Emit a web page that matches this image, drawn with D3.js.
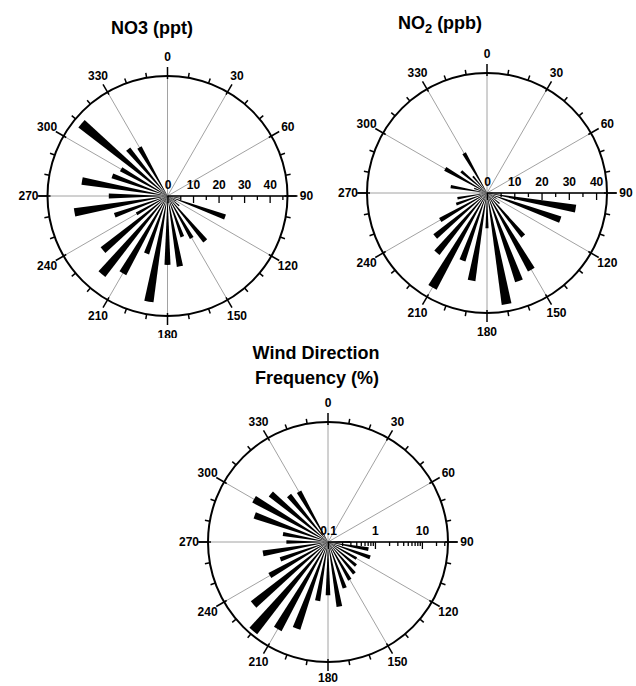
<!DOCTYPE html>
<html><head><meta charset="utf-8">
<script src="https://cdn.jsdelivr.net/npm/d3@7"></script>
<style>
body{margin:0;background:#fff}
text{font-family:"Liberation Sans",Arial,sans-serif;font-weight:bold;fill:#000}
</style>
</head><body><svg id="c" width="636" height="686"></svg>
<script>
// ---- data ----
const directions = d3.range(0, 360, 10); // 0,10,...,350 degrees
// NO3 (ppt) by wind direction bin
const no3Values = [0,0,0,0,0,0,0,0,0,1,5,24,4,6,23,19,17,28,27,42,24,35,40,33,14,22,37,23,34,23,21,44,24,22,0,0];
// NO2 (ppb) by wind direction bin
const no2Values = [0,0,0,0,0,0,0,0,0,2,33,28.6,4,6,20.7,32.5,34.3,41.4,12.9,32.6,26.3,40,28.6,24.8,19.8,12,11,3,13.5,5,17.7,12.3,8,16.8,0,0];
// Wind direction frequency (%) by bin (log radial axis)
const windFreq = [0.1,0.1,0.1,0.1,0.1,0.1,0.1,0.1,0.1,0.3,0.75,0.9,0.5,0.6,0.75,0.85,1.1,2.5,1.36,1.87,9.1,13.9,30,11.8,2.7,1.2,2.55,0.77,0.94,4.6,6.6,3.9,1.96,1.72,0.1,0.1];
const angleLabels = d3.range(0, 360, 30);
const linTicks = [0,10,20,30,40];
const linMinor = [5,15,25,35,45];
const logTicks = [0.1,1,10];

const svg = d3.select("#c");
svg.append("rect").attr("width",636).attr("height",686).attr("fill","#fff");

const ang = d3.scaleLinear().domain([0,360]).range([0, 2*Math.PI]);

function rose(cx, cy, R, r, values, opts){
  const g = svg.append("g").attr("transform",`translate(${cx},${cy})`);
  const pt = (deg, rad) => [Math.sin(ang(deg))*rad, -Math.cos(ang(deg))*rad];
  // spokes
  angleLabels.forEach(a=>{
    const p = pt(a, R);
    g.append("line").attr("x1",0).attr("y1",0).attr("x2",p[0]).attr("y2",p[1])
      .attr("stroke","#8a8a8a").attr("stroke-width",0.8);
  });
  // bars
  const arc = d3.arc().innerRadius(0)
    .outerRadius(d=>r(Math.max(d.v, r.domain()[0])))
    .startAngle(d=>ang(d.dir-2.5)).endAngle(d=>ang(d.dir+2.5));
  g.selectAll("path.bar").data(directions.map((d,i)=>({dir:d, v:values[i]})))
    .join("path").attr("class","bar").attr("d",arc).attr("fill","#000");
  // circle
  g.append("circle").attr("r",R).attr("fill","none").attr("stroke","#000").attr("stroke-width",2);
  // circle ticks
  directions.forEach(a=>{
    const major = a%30===0;
    const p1 = pt(a, major? R-3 : R), p2 = pt(a, major? R+9 : R+5);
    g.append("line").attr("x1",p1[0]).attr("y1",p1[1]).attr("x2",p2[0]).attr("y2",p2[1])
      .attr("stroke","#000").attr("stroke-width",1.5);
  });
  // 270 extension line
  g.append("line").attr("x1",-R).attr("x2",-R-10).attr("y1",0).attr("y2",0).attr("stroke","#000").attr("stroke-width",1.5);
  // angle labels
  angleLabels.forEach(a=>{
    const p = pt(a, a===180 && opts.r180 ? opts.r180 : R+19);
    g.append("text").attr("x",p[0]).attr("y",p[1]).attr("text-anchor","middle")
      .attr("dominant-baseline","central").attr("font-size",12).text(a);
  });
  // radial axis
  g.append("line").attr("x1",0).attr("x2",R+10).attr("y1",0).attr("y2",0).attr("stroke","#000").attr("stroke-width",1.5);
  const ax = g.append("g");
  ax.call(d3.axisBottom(r).tickValues(opts.ticks).tickSize(7).tickSizeOuter(0).tickFormat(""));
  ax.select(".domain").remove();
  ax.selectAll("line").attr("stroke-width",1.3);
  const axm = g.append("g");
  axm.call(d3.axisBottom(r).tickValues(opts.minor).tickSize(4).tickSizeOuter(0).tickFormat(""));
  axm.select(".domain").remove();
  axm.selectAll("line").attr("stroke-width",1.3);
  const axl = g.append("g");
  axl.call(d3.axisTop(r).tickValues(opts.ticks).tickSize(0).tickPadding(7).tickFormat(opts.fmt));
  axl.select(".domain").remove();
  axl.selectAll("text").attr("font-size",12).attr("font-family","Liberation Sans, Arial, sans-serif").attr("font-weight","bold").attr("fill","#000");
  return g;
}

// Panel 1: NO3
const r1 = d3.scaleLinear().domain([0,47]).range([0,120]);
rose(167.5, 196, 120, r1, no3Values, {ticks:linTicks, minor:linMinor, fmt:d3.format("d")});
// Panel 2: NO2
const r2 = d3.scaleLinear().domain([0,44]).range([0,120]);
rose(487, 193, 120, r2, no2Values, {ticks:linTicks, minor:[5,15,25,35], fmt:d3.format("d")});
// white band of the lower title box (clips the lower part of the first 180 label, as in the reference)
svg.append("rect").attr("x",140).attr("y",338).attr("width",60).attr("height",6).attr("fill","#fff");
// Panel 3: wind frequency (log)
const r3 = d3.scaleLog().domain([0.1,36]).range([0,120]);
const logMinor = [0.2,0.3,0.4,0.5,0.6,0.7,0.8,0.9,2,3,4,5,6,7,8,9,20,30];
rose(328, 542, 120, r3, windFreq, {ticks:logTicks, minor:logMinor, fmt:d=>d, r180:136});

// titles
svg.append("text").attr("x",152).attr("y",34).attr("text-anchor","middle").attr("font-size",18).text("NO3 (ppt)");
const t2 = svg.append("text").attr("x",440).attr("y",29).attr("text-anchor","middle").attr("font-size",18);
t2.append("tspan").text("NO");
t2.append("tspan").attr("font-size",13).attr("dy",4).text("2");
t2.append("tspan").attr("dy",-4).text(" (ppb)");
svg.append("text").attr("x",316).attr("y",359).attr("text-anchor","middle").attr("font-size",18).text("Wind Direction");
svg.append("text").attr("x",317).attr("y",384).attr("text-anchor","middle").attr("font-size",18).text("Frequency (%)");
</script></body></html>
